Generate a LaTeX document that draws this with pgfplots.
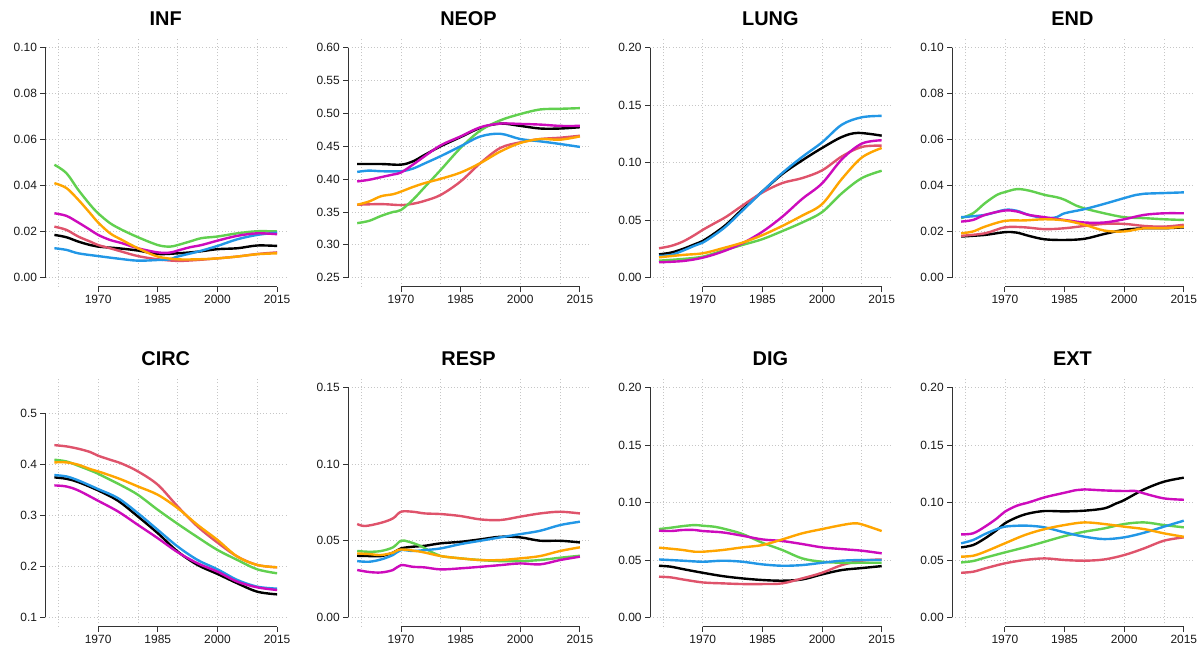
\documentclass[border=0pt]{standalone}
\usepackage{fontspec}
\setmainfont{Liberation Sans}
\usepackage{pgfplots}
\pgfplotsset{compat=1.18}
\definecolor{cR}{HTML}{DF536B}
\definecolor{cG}{HTML}{61D04F}
\definecolor{cB}{HTML}{2297E6}
\definecolor{cM}{HTML}{CD0BBC}
\definecolor{cO}{HTML}{FFA500}
\definecolor{axc}{HTML}{333333}
\pgfplotsset{
  panel/.style={
    scale only axis, width=240.5bp, height=248.4bp, anchor=south west,
    xmin=1956.76, xmax=2017.24, clip=false,
    axis line style={draw=none},
    xtick pos=bottom, ytick pos=left, tick align=outside,
    major tick length=5bp, minor tick length=0bp,
    tick style={axc, line width=0.8bp},
    xtick={1970,1985,2000,2015},
    minor xtick={1960,1970,1980,1990,2000,2010},
    xminorgrids=true, ymajorgrids=true, xmajorgrids=false,
    grid style={gray!45, line width=0.7bp, dash pattern=on 1bp off 2.2bp},
    minor grid style={gray!45, line width=0.7bp, dash pattern=on 1bp off 2.2bp},
    tick label style={font=\fontsize{12}{14}\selectfont, text=black!90},
    xticklabel style={/pgf/number format/1000 sep={}},
    yticklabel style={/pgf/number format/.cd, fixed, fixed zerofill, precision=2, assume math mode=true},
    xticklabel style={/pgf/number format/assume math mode=true},
    title style={at={(0.5,1)}, anchor=base, yshift=6.8bp, font=\bfseries\fontsize{20}{22}\selectfont},
    every axis plot/.append style={line width=2.4bp, smooth, tension=0.55, no markers},
  }
}
\tikzset{axl/.style={axc, line width=0.8bp}}
\newcommand{\axlines}[2]{%
  \draw[axl] ({axis cs:1970,#1} |- {rel axis cs:0,0}) -- ({axis cs:2015,#1} |- {rel axis cs:0,0});
  \draw[axl] ({rel axis cs:0,0} |- {axis cs:1970,#1}) -- ({rel axis cs:0,0} |- {axis cs:1970,#2});
}
\begin{document}
\begin{tikzpicture}
\path[use as bounding box] (0bp,0bp) rectangle (1203bp,650bp);

% ---------------- INF
\begin{axis}[panel, at={(45.5bp,363.1bp)}, title=INF, ymin=-0.004, ymax=0.104, ytick={0,0.02,...,0.1}]
\addplot[black] coordinates {(1959,0.0186)(1962,0.0176)(1965,0.0157)(1968,0.0142)(1970,0.0135)(1975,0.0128)(1980,0.0118)(1985,0.0103)(1990,0.0106)(1995,0.0113)(2000,0.0124)(2005,0.0128)(2010,0.014)(2015,0.0138)};
\addplot[cR] coordinates {(1959,0.0222)(1962,0.0208)(1965,0.0179)(1968,0.0157)(1970,0.0142)(1973,0.0128)(1976,0.0113)(1980,0.0094)(1985,0.008)(1990,0.0073)(1995,0.0077)(2000,0.0084)(2005,0.0092)(2010,0.0103)(2015,0.011)};
\addplot[cG] coordinates {(1959,0.0491)(1962,0.0455)(1965,0.0382)(1968,0.0317)(1970,0.028)(1973,0.0237)(1976,0.0208)(1980,0.0176)(1985,0.0142)(1988,0.0135)(1990,0.0142)(1993,0.0157)(1996,0.0172)(2000,0.0179)(2005,0.0193)(2010,0.0202)(2015,0.0201)};
\addplot[cB] coordinates {(1959,0.0128)(1962,0.0121)(1965,0.0106)(1970,0.0094)(1975,0.0083)(1980,0.0074)(1985,0.0077)(1988,0.008)(1990,0.0092)(1995,0.0113)(2000,0.0138)(2005,0.0167)(2010,0.0186)(2015,0.0196)};
\addplot[cM] coordinates {(1959,0.028)(1962,0.0269)(1965,0.024)(1968,0.0208)(1970,0.0186)(1973,0.0164)(1976,0.015)(1980,0.0128)(1985,0.011)(1988,0.0109)(1990,0.0118)(1993,0.0132)(1996,0.0142)(2000,0.0161)(2005,0.0182)(2010,0.0193)(2015,0.0189)};
\addplot[cO] coordinates {(1959,0.0411)(1962,0.039)(1965,0.0339)(1968,0.028)(1970,0.024)(1973,0.0193)(1976,0.0164)(1980,0.0128)(1985,0.0092)(1990,0.008)(1995,0.008)(2000,0.0084)(2005,0.0092)(2010,0.0102)(2015,0.0106)};
\axlines{0}{0.1}
\end{axis}

% ---------------- NEOP
\begin{axis}[panel, at={(348.3bp,363.1bp)}, title=NEOP, ymin=0.236, ymax=0.614, ytick={0.25,0.3,...,0.6}]
\addplot[black] coordinates {(1959,0.423)(1965,0.423)(1970,0.422)(1973,0.427)(1976,0.437)(1980,0.45)(1985,0.464)(1990,0.478)(1995,0.4845)(2000,0.481)(2005,0.477)(2010,0.477)(2015,0.479)};
\addplot[cR] coordinates {(1959,0.361)(1965,0.362)(1970,0.3605)(1973,0.3625)(1976,0.367)(1980,0.376)(1985,0.3965)(1990,0.4245)(1995,0.4475)(2000,0.456)(2005,0.461)(2010,0.463)(2015,0.466)};
\addplot[cG] coordinates {(1959,0.333)(1962,0.3365)(1965,0.344)(1968,0.35)(1970,0.353)(1973,0.3685)(1976,0.388)(1980,0.414)(1985,0.4475)(1990,0.474)(1995,0.4895)(2000,0.499)(2005,0.506)(2010,0.507)(2015,0.508)};
\addplot[cB] coordinates {(1959,0.411)(1962,0.413)(1965,0.412)(1970,0.412)(1973,0.416)(1976,0.424)(1980,0.435)(1985,0.45)(1990,0.465)(1995,0.469)(2000,0.461)(2005,0.4575)(2010,0.4535)(2015,0.449)};
\addplot[cM] coordinates {(1959,0.3965)(1962,0.399)(1965,0.403)(1968,0.407)(1970,0.41)(1973,0.422)(1976,0.435)(1980,0.4515)(1985,0.465)(1990,0.479)(1995,0.4845)(2000,0.484)(2005,0.483)(2010,0.481)(2015,0.481)};
\addplot[cO] coordinates {(1959,0.361)(1962,0.366)(1965,0.374)(1968,0.377)(1970,0.381)(1973,0.388)(1976,0.394)(1980,0.4005)(1985,0.41)(1990,0.4245)(1995,0.442)(2000,0.455)(2005,0.461)(2010,0.46)(2015,0.465)};
\axlines{0.25}{0.6}
\end{axis}

% ---------------- LUNG
\begin{axis}[panel, at={(650.1bp,363.1bp)}, title=LUNG, ymin=-0.008, ymax=0.208, ytick={0,0.05,...,0.2}]
\addplot[black] coordinates {(1959,0.0203)(1962,0.0218)(1965,0.025)(1968,0.0291)(1970,0.032)(1973,0.0387)(1976,0.0465)(1980,0.0596)(1985,0.075)(1990,0.0901)(1995,0.102)(2000,0.1128)(2005,0.1224)(2009,0.1259)(2015,0.1235)};
\addplot[cR] coordinates {(1959,0.0256)(1962,0.0276)(1965,0.0314)(1968,0.0372)(1970,0.0416)(1973,0.0474)(1976,0.0532)(1980,0.0628)(1985,0.0741)(1990,0.0823)(1995,0.0866)(2000,0.0933)(2005,0.1055)(2010,0.1137)(2015,0.1148)};
\addplot[cG] coordinates {(1959,0.0148)(1965,0.0163)(1970,0.0183)(1975,0.0235)(1980,0.0285)(1985,0.0335)(1990,0.0405)(1995,0.048)(2000,0.057)(2005,0.0735)(2010,0.0866)(2015,0.093)};
\addplot[cB] coordinates {(1959,0.0189)(1962,0.0198)(1965,0.0235)(1968,0.0279)(1970,0.0305)(1973,0.0372)(1976,0.0451)(1980,0.0584)(1985,0.075)(1990,0.091)(1995,0.105)(2000,0.1177)(2005,0.1331)(2010,0.1395)(2015,0.1407)};
\addplot[cM] coordinates {(1959,0.0134)(1965,0.0145)(1970,0.0174)(1975,0.0227)(1980,0.0300)(1985,0.040)(1990,0.053)(1995,0.0685)(2000,0.082)(2005,0.103)(2010,0.1166)(2015,0.1195)};
\addplot[cO] coordinates {(1959,0.0177)(1965,0.0198)(1970,0.0212)(1975,0.0256)(1980,0.0305)(1985,0.037)(1990,0.045)(1995,0.054)(2000,0.064)(2005,0.086)(2010,0.1045)(2015,0.1128)};
\axlines{0}{0.2}
\end{axis}

% ---------------- END
\begin{axis}[panel, at={(952.2bp,363.1bp)}, title=END, ymin=-0.004, ymax=0.104, ytick={0,0.02,...,0.1}]
\addplot[black] coordinates {(1959,0.0179)(1965,0.0186)(1970,0.0198)(1973,0.0196)(1976,0.0182)(1980,0.0167)(1985,0.0164)(1990,0.0169)(1995,0.019)(2000,0.0208)(2005,0.0215)(2010,0.0215)(2015,0.0219)};
\addplot[cR] coordinates {(1959,0.0182)(1965,0.0193)(1970,0.0219)(1975,0.0219)(1980,0.0211)(1985,0.0215)(1990,0.0225)(1995,0.0234)(2000,0.0234)(2005,0.0225)(2010,0.0222)(2015,0.023)};
\addplot[cG] coordinates {(1959,0.0259)(1962,0.028)(1965,0.0324)(1968,0.036)(1970,0.0372)(1973,0.0385)(1976,0.0379)(1980,0.036)(1983,0.035)(1985,0.0339)(1988,0.0313)(1990,0.0301)(1995,0.028)(2000,0.0263)(2005,0.0259)(2010,0.0254)(2015,0.0251)};
\addplot[cB] coordinates {(1959,0.0263)(1965,0.0273)(1970,0.0295)(1973,0.0291)(1976,0.0273)(1980,0.0259)(1983,0.0263)(1985,0.028)(1990,0.0298)(1995,0.0321)(2000,0.0346)(2003,0.036)(2005,0.0365)(2010,0.0368)(2015,0.0371)};
\addplot[cM] coordinates {(1959,0.0244)(1962,0.0251)(1965,0.0273)(1970,0.0292)(1973,0.0288)(1976,0.0273)(1980,0.0263)(1985,0.0251)(1990,0.024)(1995,0.024)(2000,0.0254)(2005,0.0273)(2010,0.028)(2015,0.028)};
\addplot[cO] coordinates {(1959,0.0193)(1962,0.0201)(1965,0.0222)(1970,0.0247)(1975,0.0249)(1980,0.0254)(1985,0.0249)(1990,0.023)(1995,0.0205)(2000,0.0201)(2005,0.0215)(2010,0.0215)(2015,0.0222)};
\axlines{0}{0.1}
\end{axis}

% ---------------- CIRC
\begin{axis}[panel, at={(45.5bp,23.4bp)}, title=CIRC, ymin=0.082, ymax=0.568, ytick={0.1,0.2,...,0.5},
  yticklabel style={/pgf/number format/precision=1}]
\addplot[black] coordinates {(1959,0.3739)(1962,0.3712)(1965,0.3647)(1970,0.3484)(1975,0.3281)(1980,0.2974)(1985,0.2647)(1990,0.2288)(1995,0.2026)(2000,0.185)(2005,0.1667)(2010,0.1503)(2015,0.1451)};
\addplot[cR] coordinates {(1959,0.437)(1962,0.4346)(1965,0.43)(1968,0.4235)(1970,0.4163)(1973,0.4085)(1976,0.4007)(1980,0.3856)(1985,0.3595)(1990,0.317)(1995,0.2778)(2000,0.2464)(2005,0.219)(2010,0.2026)(2015,0.198)};
\addplot[cG] coordinates {(1959,0.4085)(1962,0.4052)(1965,0.3967)(1968,0.3876)(1970,0.381)(1973,0.3693)(1976,0.3575)(1980,0.3399)(1985,0.3105)(1990,0.283)(1995,0.2569)(2000,0.232)(2005,0.2124)(2010,0.1941)(2015,0.1863)};
\addplot[cB] coordinates {(1959,0.3784)(1962,0.3758)(1965,0.368)(1970,0.351)(1975,0.3333)(1980,0.3039)(1985,0.2712)(1990,0.2386)(1995,0.2124)(2000,0.1941)(2005,0.1732)(2010,0.1601)(2015,0.1562)};
\addplot[cM] coordinates {(1959,0.3582)(1962,0.3562)(1965,0.3484)(1970,0.3281)(1975,0.3072)(1980,0.281)(1985,0.2549)(1990,0.2275)(1995,0.2059)(2000,0.1895)(2005,0.1699)(2010,0.1588)(2015,0.1536)};
\addplot[cO] coordinates {(1959,0.4033)(1962,0.4033)(1965,0.3987)(1968,0.3902)(1970,0.3856)(1973,0.3778)(1976,0.3693)(1980,0.3562)(1985,0.3399)(1990,0.3137)(1995,0.281)(2000,0.2516)(2005,0.219)(2010,0.2026)(2015,0.198)};
\axlines{0.1}{0.5}
\end{axis}

% ---------------- RESP
\begin{axis}[panel, at={(348.3bp,23.4bp)}, title=RESP, ymin=-0.006, ymax=0.156, ytick={0,0.05,...,0.15}]
\addplot[black] coordinates {(1959,0.0402)(1962,0.04)(1965,0.04)(1968,0.0422)(1970,0.045)(1973,0.0461)(1976,0.0467)(1980,0.0483)(1985,0.0493)(1990,0.0509)(1995,0.0526)(2000,0.0522)(2005,0.05)(2010,0.05)(2015,0.0489)};
\addplot[cR] coordinates {(1959,0.0609)(1961,0.0596)(1965,0.0617)(1968,0.0646)(1970,0.0689)(1973,0.0689)(1976,0.0678)(1980,0.0674)(1985,0.0661)(1990,0.0639)(1995,0.0635)(2000,0.0657)(2005,0.0678)(2010,0.0689)(2015,0.0678)};
\addplot[cG] coordinates {(1959,0.0433)(1962,0.0428)(1965,0.0433)(1968,0.0457)(1970,0.05)(1972,0.0493)(1975,0.0465)(1978,0.0422)(1980,0.04)(1985,0.0385)(1990,0.0374)(1995,0.0367)(2000,0.0367)(2005,0.0374)(2010,0.0389)(2015,0.0402)};
\addplot[cB] coordinates {(1959,0.0367)(1962,0.0363)(1965,0.0378)(1968,0.0407)(1970,0.0439)(1973,0.0433)(1976,0.0439)(1980,0.045)(1985,0.0478)(1990,0.05)(1995,0.0522)(2000,0.0543)(2005,0.0565)(2010,0.0602)(2015,0.0624)};
\addplot[cM] coordinates {(1959,0.0309)(1962,0.0296)(1965,0.0293)(1968,0.0309)(1970,0.0341)(1973,0.033)(1976,0.0326)(1980,0.0313)(1985,0.032)(1990,0.033)(1995,0.0341)(2000,0.0352)(2005,0.0346)(2010,0.0374)(2015,0.0396)};
\addplot[cO] coordinates {(1959,0.0417)(1962,0.0413)(1965,0.0407)(1968,0.0422)(1970,0.0443)(1975,0.0428)(1980,0.04)(1985,0.0385)(1990,0.0374)(1995,0.0374)(2000,0.0385)(2005,0.04)(2010,0.0433)(2015,0.0457)};
\axlines{0}{0.15}
\end{axis}

% ---------------- DIG
\begin{axis}[panel, at={(650.1bp,23.4bp)}, title=DIG, ymin=-0.008, ymax=0.208, ytick={0,0.05,...,0.2}]
\addplot[black] coordinates {(1959,0.0449)(1962,0.0441)(1965,0.042)(1970,0.0388)(1975,0.0359)(1980,0.0339)(1985,0.0325)(1990,0.0319)(1995,0.033)(2000,0.0374)(2005,0.0412)(2010,0.0429)(2015,0.0446)};
\addplot[cR] coordinates {(1959,0.0354)(1962,0.0348)(1965,0.033)(1970,0.0304)(1975,0.0296)(1980,0.029)(1985,0.029)(1990,0.0296)(1995,0.0339)(2000,0.0388)(2005,0.0455)(2010,0.0493)(2015,0.0504)};
\addplot[cG] coordinates {(1959,0.0768)(1962,0.078)(1965,0.0794)(1968,0.0803)(1970,0.0797)(1973,0.0788)(1976,0.0765)(1980,0.0725)(1985,0.0649)(1990,0.0586)(1995,0.0513)(2000,0.0484)(2005,0.0475)(2010,0.0475)(2015,0.0475)};
\addplot[cB] coordinates {(1959,0.0504)(1965,0.0493)(1970,0.0484)(1975,0.0493)(1980,0.0484)(1985,0.0461)(1990,0.0449)(1995,0.0455)(2000,0.0475)(2005,0.0493)(2010,0.0499)(2015,0.0499)};
\addplot[cM] coordinates {(1959,0.0754)(1962,0.0751)(1965,0.076)(1968,0.076)(1970,0.0751)(1975,0.0739)(1980,0.071)(1985,0.0678)(1990,0.0664)(1995,0.0638)(2000,0.0609)(2005,0.0594)(2010,0.058)(2015,0.0557)};
\addplot[cO] coordinates {(1959,0.0606)(1962,0.0597)(1965,0.0586)(1968,0.0571)(1970,0.0571)(1975,0.0586)(1980,0.0609)(1985,0.0629)(1990,0.0678)(1995,0.0731)(2000,0.0768)(2005,0.0803)(2008,0.0818)(2010,0.0809)(2015,0.0751)};
\axlines{0}{0.2}
\end{axis}

% ---------------- EXT
\begin{axis}[panel, at={(952.2bp,23.4bp)}, title=EXT, ymin=-0.008, ymax=0.208, ytick={0,0.05,...,0.2}]
\addplot[black] coordinates {(1959,0.0609)(1962,0.0629)(1965,0.0687)(1968,0.076)(1970,0.0818)(1973,0.087)(1976,0.0904)(1980,0.0925)(1985,0.0922)(1990,0.0928)(1995,0.0948)(1998,0.0991)(2000,0.102)(2005,0.1113)(2010,0.118)(2015,0.1215)};
\addplot[cR] coordinates {(1959,0.0388)(1962,0.0397)(1965,0.0426)(1970,0.047)(1975,0.0499)(1980,0.0513)(1985,0.0499)(1990,0.0493)(1995,0.0504)(2000,0.0542)(2005,0.06)(2010,0.0667)(2015,0.0696)};
\addplot[cG] coordinates {(1959,0.0478)(1962,0.049)(1965,0.0519)(1970,0.0565)(1975,0.0609)(1980,0.0658)(1985,0.0707)(1990,0.0745)(1995,0.0774)(2000,0.0812)(2005,0.0826)(2010,0.0803)(2015,0.0783)};
\addplot[cB] coordinates {(1959,0.0644)(1962,0.0673)(1965,0.0725)(1968,0.0768)(1970,0.0789)(1973,0.0797)(1976,0.0797)(1980,0.0783)(1985,0.0739)(1990,0.0702)(1995,0.0681)(2000,0.0696)(2005,0.0736)(2010,0.0789)(2015,0.0841)};
\addplot[cM] coordinates {(1959,0.0722)(1962,0.0731)(1965,0.0789)(1968,0.0861)(1970,0.0919)(1973,0.0971)(1976,0.1)(1980,0.1044)(1985,0.1084)(1988,0.1107)(1990,0.1113)(1995,0.1104)(2000,0.1099)(2003,0.1099)(2005,0.1078)(2010,0.1035)(2015,0.1023)};
\addplot[cO] coordinates {(1959,0.0528)(1962,0.0536)(1965,0.0571)(1970,0.0644)(1975,0.0716)(1980,0.0768)(1985,0.0803)(1990,0.0826)(1995,0.0812)(2000,0.0789)(2005,0.0768)(2010,0.0731)(2015,0.0701)};
\axlines{0}{0.2}
\end{axis}
\end{tikzpicture}
\end{document}
